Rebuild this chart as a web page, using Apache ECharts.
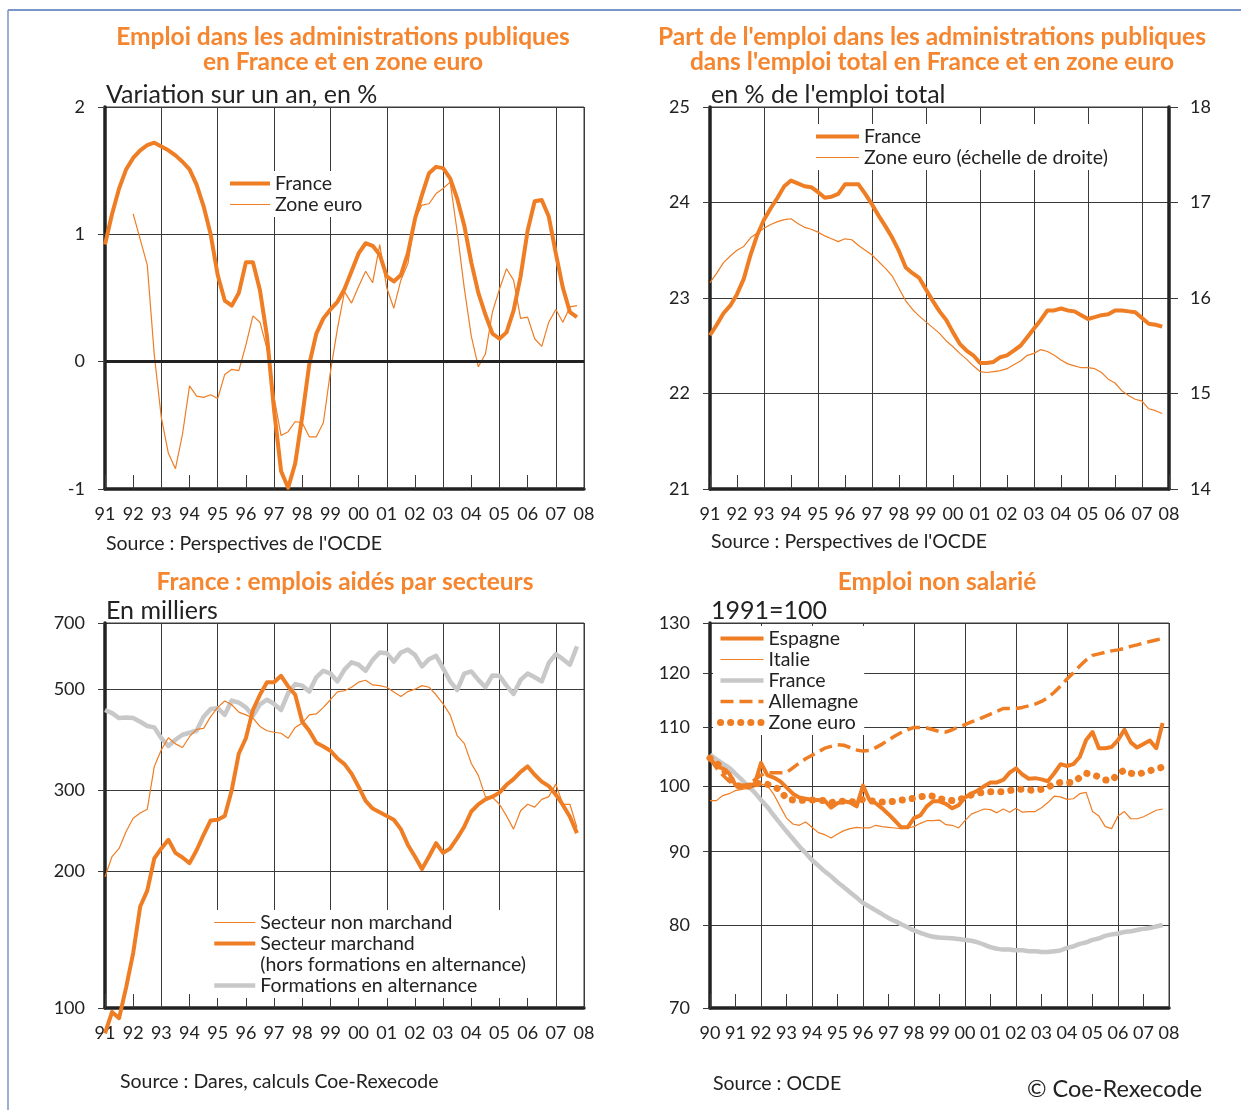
<!DOCTYPE html>
<html>
<head>
<meta charset="utf-8">
<title>Emploi public, emplois aidés, emploi non salarié</title>
<script src="https://cdn.jsdelivr.net/npm/echarts@6/dist/echarts.min.js"></script>
<style>
    html, body { margin: 0; padding: 0; background: #ffffff; }
    #chart { width: 1241px; height: 1110px; }
</style>
</head>
<body>
<div id="chart"></div>
<script>
    // ---- données (trimestrielles) ----
    // graphique 1 : variation sur un an, en %  (France depuis 1991T1, zone euro depuis 1992T1)
    var varFrance = [0.92, 1.16, 1.36, 1.51, 1.60, 1.66, 1.70, 1.72, 1.69, 1.66, 1.62, 1.57, 1.51, 1.39, 1.22, 1.00, 0.68, 0.48, 0.44, 0.54,
        0.78, 0.78, 0.56, 0.20, -0.38, -0.86, -0.99, -0.80, -0.43, -0.02, 0.22, 0.34, 0.41, 0.47, 0.57, 0.71, 0.85, 0.93, 0.91, 0.84,
        0.67, 0.63, 0.68, 0.85, 1.12, 1.31, 1.48, 1.53, 1.52, 1.44, 1.28, 1.07, 0.78, 0.54, 0.37, 0.22, 0.18, 0.23, 0.40, 0.67,
        1.03, 1.26, 1.27, 1.14, 0.85, 0.58, 0.39, 0.35];
    var varZoneEuro = [1.16, 0.96, 0.76, 0.05, -0.44, -0.72, -0.84, -0.57, -0.19, -0.27, -0.28, -0.26, -0.29, -0.10, -0.06, -0.07,
        0.13, 0.36, 0.31, 0.10, -0.28, -0.58, -0.55, -0.47, -0.48, -0.59, -0.59, -0.48, -0.08, 0.26, 0.55, 0.46, 0.59, 0.71, 0.62, 0.92,
        0.58, 0.42, 0.64, 0.77, 1.12, 1.23, 1.24, 1.32, 1.36, 1.41, 1.02, 0.58, 0.20, -0.04, 0.06, 0.39, 0.57, 0.73, 0.64, 0.34,
        0.35, 0.18, 0.12, 0.31, 0.41, 0.31, 0.43, 0.44];

    // graphique 2 : part dans l'emploi total, en %  (depuis 1991T1)
    var partFrance = [22.61, 22.72, 22.84, 22.92, 23.04, 23.20, 23.45, 23.66, 23.82, 23.94, 24.05, 24.17, 24.23, 24.20, 24.17, 24.16,
        24.11, 24.05, 24.06, 24.09, 24.19, 24.19, 24.19, 24.09, 23.98, 23.86, 23.75, 23.63, 23.49, 23.32, 23.26, 23.21, 23.09, 22.97,
        22.86, 22.77, 22.64, 22.52, 22.45, 22.40, 22.32, 22.32, 22.33, 22.38, 22.40, 22.45, 22.50, 22.59, 22.68, 22.77, 22.87, 22.87,
        22.89, 22.87, 22.86, 22.82, 22.78, 22.80, 22.82, 22.83, 22.87, 22.87, 22.86, 22.85, 22.79, 22.73, 22.72, 22.70];
    var partZoneEuro = [16.16, 16.26, 16.37, 16.44, 16.50, 16.54, 16.63, 16.68, 16.73, 16.77, 16.80, 16.82, 16.83, 16.78, 16.74, 16.72,
        16.69, 16.65, 16.62, 16.59, 16.62, 16.61, 16.55, 16.50, 16.45, 16.38, 16.31, 16.23, 16.10, 15.97, 15.88, 15.81, 15.75, 15.69,
        15.63, 15.55, 15.49, 15.42, 15.36, 15.29, 15.23, 15.22, 15.23, 15.24, 15.26, 15.30, 15.34, 15.40, 15.42, 15.46, 15.44, 15.40,
        15.35, 15.31, 15.29, 15.27, 15.27, 15.26, 15.22, 15.15, 15.11, 15.03, 14.98, 14.94, 14.92, 14.84, 14.82, 14.79];

    // graphique 3 : emplois aidés, en milliers (depuis 1991T1)
    var aidesNonMarchand = [194, 215, 224, 244, 261, 268, 273, 339, 369, 392, 380, 373, 394, 409, 411, 436, 457, 472, 463, 446,
        440, 433, 415, 406, 403, 401, 391, 413, 422, 440, 442, 457, 475, 494, 497, 506, 519, 524, 512, 510,
        506, 494, 483, 495, 501, 510, 506, 487, 465, 440, 396, 381, 344, 324, 291, 290, 280, 264, 247, 271,
        280, 276, 287, 291, 310, 280, 280, 249];
    var aidesMarchand = [88, 98, 95, 111, 132, 167, 181, 213, 224, 234, 219, 214, 208, 222, 240, 258, 259, 264, 301, 362,
        391, 451, 487, 519, 519, 536, 508, 487, 425, 406, 382, 375, 367, 353, 343, 327, 306, 285, 274, 269,
        264, 259, 247, 228, 215, 202, 215, 230, 219, 224, 236, 250, 270, 280, 287, 291, 297, 309, 318, 330,
        339, 325, 314, 307, 294, 279, 263, 242];
    var aidesAlternance = [451, 444, 433, 434, 433, 425, 416, 413, 391, 376, 388, 398, 402, 406, 436, 453, 455, 440, 473, 468,
        457, 438, 464, 475, 465, 451, 491, 514, 510, 495, 532, 550, 542, 521, 553, 574, 567, 550, 581, 603,
        601, 576, 603, 612, 596, 562, 583, 593, 557, 521, 499, 542, 548, 525, 506, 537, 536, 510, 489, 525,
        542, 532, 521, 572, 598, 583, 567, 622];

    // graphique 4 : emploi non salarié, 1991=100 (depuis 1990T1)
    var nsEspagne = [104.6, 103.2, 102.9, 102.1, 100.2, 100.1, 100.2, 100.3, 103.8, 101.8, 101.4, 100.8, 99.8, 98.8, 98.2, 98.0,
        97.8, 97.8, 97.7, 96.6, 97.3, 97.6, 97.4, 96.8, 100.1, 97.8, 97.3, 96.5, 95.6, 94.6, 93.6, 93.6, 95.0, 95.4, 96.8, 97.6,
        97.6, 97.2, 96.5, 97.0, 98.2, 98.8, 99.3, 100.0, 100.6, 100.6, 101.0, 102.2, 102.9, 101.9, 101.2, 101.3, 101.1, 100.8,
        102.1, 103.6, 103.3, 103.6, 104.8, 107.7, 109.1, 106.3, 106.3, 106.5, 107.7, 109.5, 107.3, 106.4, 107.0, 107.6, 106.3, 110.7];
    var nsItalie = [97.7, 97.7, 98.5, 98.8, 99.3, 99.5, 99.7, 99.9, 100.3, 100.1, 98.7, 96.8, 95.0, 94.1, 93.9, 94.4,
        93.6, 92.8, 92.5, 92.0, 92.6, 93.1, 93.4, 93.6, 93.5, 93.5, 93.9, 93.7, 93.6, 93.5, 93.4, 93.5, 93.7, 94.2, 94.6, 94.6,
        94.7, 94.0, 93.9, 93.5, 94.6, 95.6, 96.0, 96.4, 96.3, 95.8, 96.4, 95.9, 96.5, 95.9, 96.0, 96.0, 96.6, 97.4,
        98.4, 98.3, 97.9, 98.0, 98.8, 99.0, 96.0, 95.3, 93.7, 93.4, 95.3, 96.0, 94.9, 94.9, 95.2, 95.7, 96.2, 96.4];
    var nsFrance = [105.2, 104.4, 103.7, 103.0, 102.0, 101.0, 100.0, 99.0, 97.8, 96.7, 95.4, 94.2, 93.0, 91.9, 90.8, 89.8,
        88.8, 88.0, 87.2, 86.5, 85.7, 85.0, 84.3, 83.6, 82.9, 82.4, 81.9, 81.4, 80.9, 80.5, 80.1, 79.7, 79.3, 79.0, 78.7, 78.5,
        78.4, 78.35, 78.3, 78.2, 78.1, 78.0, 77.8, 77.5, 77.2, 77.0, 76.9, 76.9, 76.8, 76.8, 76.7, 76.7, 76.6, 76.6,
        76.7, 76.8, 77.1, 77.3, 77.6, 77.8, 78.1, 78.3, 78.6, 78.8, 78.9, 79.1, 79.2, 79.35, 79.5, 79.6, 79.8, 80.0];
    var nsAllemagne = [104.5, 103.0, 101.8, 100.8, 100.0, 99.8, 100.2, 101.0, 101.8, 102.2, 102.2, 102.2, 102.2, 103.0, 103.8, 104.5,
        105.1, 105.7, 106.3, 106.6, 106.9, 106.8, 106.4, 106.0, 105.8, 105.9, 106.4, 107.0, 107.7, 108.4, 109.0, 109.5, 109.9, 109.9,
        109.8, 109.5, 109.2, 109.1, 109.5, 110.0, 110.4, 110.9, 111.3, 111.8, 112.3, 112.8, 113.3, 113.3, 113.3, 113.5, 113.8, 114.1,
        114.6, 115.3, 116.3, 117.5, 118.8, 120.0, 121.3, 122.5, 123.4, 123.7, 124.0, 124.3, 124.5, 124.8, 125.2, 125.5, 125.9, 126.2,
        126.5, 126.8];
    var nsZoneEuro = [104.6, 103.8, 102.9, 101.5, 100.2, 99.9, 100.0, 100.2, 100.6, 100.3, 99.9, 99.4, 98.0, 97.8, 97.7, 97.8,
        97.8, 97.8, 97.7, 97.4, 97.6, 97.6, 97.5, 97.6, 97.9, 97.7, 97.6, 97.5, 97.5, 97.6, 97.8, 97.9, 98.1, 98.3, 98.5, 98.4,
        98.0, 97.8, 97.7, 97.8, 98.2, 98.6, 98.9, 99.0, 99.1, 99.1, 99.1, 99.3, 99.5, 99.5, 99.4, 99.3, 99.5, 99.8,
        100.4, 100.6, 100.6, 100.6, 101.4, 102.1, 101.9, 101.5, 101.0, 100.9, 102.0, 102.6, 102.1, 101.9, 102.2, 102.5, 102.8, 103.1];

    // graduations
    var ticksAides = [100, 200, 300, 500, 700];
    var ticksNonSal = [70, 80, 90, 100, 110, 120, 130];

    // ---- styles ----
    var ORANGE = '#EF7D24';
    var TITRE = '#F5862F';
    var GRIS = '#C8C8C8';
    var NOIR = '#222222';
    var GRILLE = '#3a3a3a';
    var FONT = 'Lato, "Noto Sans", sans-serif';

    var sEpais = {color: ORANGE, width: 4, join: 'round'};
    var sFin = {color: ORANGE, width: 1.2};
    var sGris = {color: GRIS, width: 4.5, join: 'round'};
    var sTirets = {color: ORANGE, width: 3.5, type: [13, 6]};
    var sPoints = {color: ORANGE, width: 7, type: [0.1, 10], cap: 'round'};
    var sVide = {color: 'rgba(0,0,0,0)', width: 0, opacity: 0};

    // associe chaque valeur à sa date trimestrielle
    function trim(debut, valeurs) {
        var out = [];
        for (var i = 0; i < valeurs.length; i++) {
            out.push([debut + i / 4, valeurs[i]]);
        }
        return out;
    }

    function axeAnnees(grid, min, max) {
        return {
            type: 'value', gridIndex: grid, min: min, max: max, interval: 1,
            axisLine: {show: true, onZero: false, lineStyle: {color: NOIR, width: 3.5}},
            axisTick: {show: true, inside: true, length: 14, lineStyle: {color: GRILLE, width: 1}},
            axisLabel: {margin: 16, fontSize: 18, color: NOIR, fontFamily: FONT,
                formatter: function (v) { return String(v).slice(2); }},
            splitLine: {show: false}
        };
    }
    // axe muet qui ne sert qu'aux traits verticaux tous les deux ans
    function axeGrille(grid, span) {
        return {
            type: 'value', gridIndex: grid, min: 0, max: span, interval: 2,
            axisLine: {show: false}, axisTick: {show: false}, axisLabel: {show: false},
            splitLine: {show: true, lineStyle: {color: GRILLE, width: 1}}
        };
    }
    function axeY(grid, extra) {
        var a = {
            gridIndex: grid,
            axisLine: {show: true, onZero: false, lineStyle: {color: NOIR, width: 3.5}},
            axisTick: {show: true, length: 7, lineStyle: {color: GRILLE, width: 1}},
            axisLabel: {margin: 20, fontSize: 18, color: NOIR, fontFamily: FONT},
            splitLine: {show: true, lineStyle: {color: GRILLE, width: 1}}
        };
        for (var k in extra) {
            if (typeof extra[k] === 'object' && a[k] && !Array.isArray(extra[k])) {
                for (var j in extra[k]) { a[k][j] = extra[k][j]; }
            } else {
                a[k] = extra[k];
            }
        }
        return a;
    }
    function ligne(nom, xi, yi, data, style, autres) {
        var s = {
            name: nom, type: 'line', xAxisIndex: xi, yAxisIndex: yi, data: data,
            symbol: 'none', showSymbol: false, clip: false, animation: false,
            itemStyle: {color: style.color},
            lineStyle: style
        };
        for (var k in autres) { s[k] = autres[k]; }
        return s;
    }
    // items : [nom, style du trait]
    function legende(items, left, top, itemWidth) {
        return {
            data: items.map(function (it) { return {name: it[0], lineStyle: it[1]}; }),
            left: left, top: top, orient: 'vertical',
            itemWidth: itemWidth, itemHeight: 14, itemGap: 0,
            padding: [2, 6, 2, 4], backgroundColor: '#ffffff',
            selectedMode: false,
            itemStyle: {opacity: 0},
            textStyle: {fontSize: 19.5, color: NOIR, fontFamily: FONT, lineHeight: 21},
            formatter: function (n) { return n.split('#')[0]; }
        };
    }
    function texte(x, y, t, font, couleur, align) {
        return {
            type: 'text', x: x, y: y, silent: true,
            style: {text: t, font: font, fill: couleur || NOIR, align: align || 'left',
                verticalAlign: 'middle', lineHeight: 25}
        };
    }

    var grilles = [
        {left: 105, top: 107, width: 479, height: 382},
        {left: 710, top: 107, width: 459, height: 382},
        {left: 105, top: 623, width: 479, height: 385},
        {left: 710, top: 623, width: 459, height: 385}
    ];
    grilles.forEach(function (g) {
        g.show = true; g.borderColor = GRILLE; g.borderWidth = 1; g.backgroundColor = 'transparent';
    });

    var fTitre = 'bold 24.5px ' + FONT;
    var fUnite = '25px ' + FONT;
    var fSource = '19.5px ' + FONT;

    var option = {
        animation: false,
        backgroundColor: '#ffffff',
        grid: grilles,
        xAxis: [
            axeAnnees(0, 1991, 2008), axeGrille(0, 17),
            axeAnnees(1, 1991, 2008), axeGrille(1, 17),
            axeAnnees(2, 1991, 2008), axeGrille(2, 17),
            axeAnnees(3, 1990, 2008), axeGrille(3, 18)
        ],
        yAxis: [
            axeY(0, {type: 'value', min: -1, max: 2, interval: 1}),
            axeY(1, {type: 'value', min: 21, max: 25, interval: 1}),
            axeY(1, {type: 'value', min: 14, max: 18, interval: 1, position: 'right',
                axisLabel: {margin: 21}, axisTick: {length: 9}, splitLine: {show: false}}),
            axeY(2, {type: 'log', logBase: 10, min: 100, max: 700,
                axisLabel: {customValues: ticksAides}, axisTick: {customValues: ticksAides}}),
            axeY(3, {type: 'log', logBase: 10, min: 70, max: 130,
                axisLabel: {customValues: ticksNonSal}, axisTick: {customValues: ticksNonSal}})
        ],
        legend: [
            legende([['France#1', sEpais], ['Zone euro#1', sFin]], 224, 171, 40),
            legende([['France#2', sEpais], ["Zone euro (échelle de droite)#2", sFin]], 810, 124, 43),
            legende([['Secteur non marchand#3', sFin], ['Secteur marchand#3', sEpais],
                ['(hors formations en alternance)#3', sVide], ['Formations en alternance#3', sGris]], 208, 910, 41),
            legende([['Espagne#4', sEpais], ['Italie#4', sFin], ['France#4', sGris],
                ['Allemagne#4', sTirets], ['Zone euro#4', sPoints]], 713, 626, 43)
        ],
        series: [
            // graphique 1
            ligne('Zone euro#1', 0, 0, trim(1992, varZoneEuro), sFin),
            ligne('France#1', 0, 0, trim(1991, varFrance), sEpais, {
                markLine: {
                    silent: true, symbol: ['none', 'none'], label: {show: false}, animation: false,
                    lineStyle: {color: NOIR, width: 3, type: 'solid'},
                    data: [{yAxis: 0}]
                }
            }),
            // graphique 2
            ligne("Zone euro (échelle de droite)#2", 2, 2, trim(1991, partZoneEuro), sFin),
            ligne('France#2', 2, 1, trim(1991, partFrance), sEpais),
            // graphique 3
            ligne('Formations en alternance#3', 4, 3, trim(1991, aidesAlternance), sGris),
            ligne('Secteur non marchand#3', 4, 3, trim(1991, aidesNonMarchand), sFin),
            ligne('Secteur marchand#3', 4, 3, trim(1991, aidesMarchand), sEpais),
            ligne('(hors formations en alternance)#3', 4, 3, [], sVide),
            // graphique 4
            ligne('France#4', 6, 4, trim(1990, nsFrance), sGris, {smooth: 0.4}),
            ligne('Italie#4', 6, 4, trim(1990, nsItalie), sFin),
            ligne('Allemagne#4', 6, 4, trim(1990, nsAllemagne), sTirets),
            ligne('Zone euro#4', 6, 4, trim(1990, nsZoneEuro), sPoints),
            ligne('Espagne#4', 6, 4, trim(1990, nsEspagne), sEpais)
        ],
        graphic: [
            // cadre
            {type: 'line', silent: true, shape: {x1: 8, y1: 10, x2: 1241, y2: 10}, style: {stroke: '#7A95C7', lineWidth: 2}},
            {type: 'line', silent: true, shape: {x1: 8, y1: 10, x2: 8, y2: 1110}, style: {stroke: '#7A95C7', lineWidth: 1.5}},
            // titres
            texte(343, 49.5, 'Emploi dans les administrations publiques\nen France et en zone euro', fTitre, TITRE, 'center'),
            texte(932, 49.5, "Part de l'emploi dans les administrations publiques\ndans l'emploi total en France et en zone euro", fTitre, TITRE, 'center'),
            texte(345, 582, 'France : emplois aidés par secteurs', fTitre, TITRE, 'center'),
            texte(937, 582, 'Emploi non salarié', fTitre, TITRE, 'center'),
            // unités
            texte(106, 95, 'Variation sur un an, en %', fUnite),
            texte(711, 95, "en % de l'emploi total", fUnite),
            texte(106, 611, 'En milliers', fUnite),
            texte(711, 611, '1991=100', fUnite),
            // sources
            texte(106, 544, "Source : Perspectives de l'OCDE", fSource),
            texte(711, 542, "Source : Perspectives de l'OCDE", fSource),
            texte(120, 1082, 'Source : Dares, calculs Coe-Rexecode', fSource),
            texte(713, 1084, 'Source : OCDE', fSource),
            texte(1027, 1089, '© Coe-Rexecode', '23.5px ' + FONT)
        ]
    };

    var myChart = echarts.init(document.getElementById('chart'), null, {renderer: 'canvas'});
    myChart.setOption(option);
</script>
</body>
</html>
